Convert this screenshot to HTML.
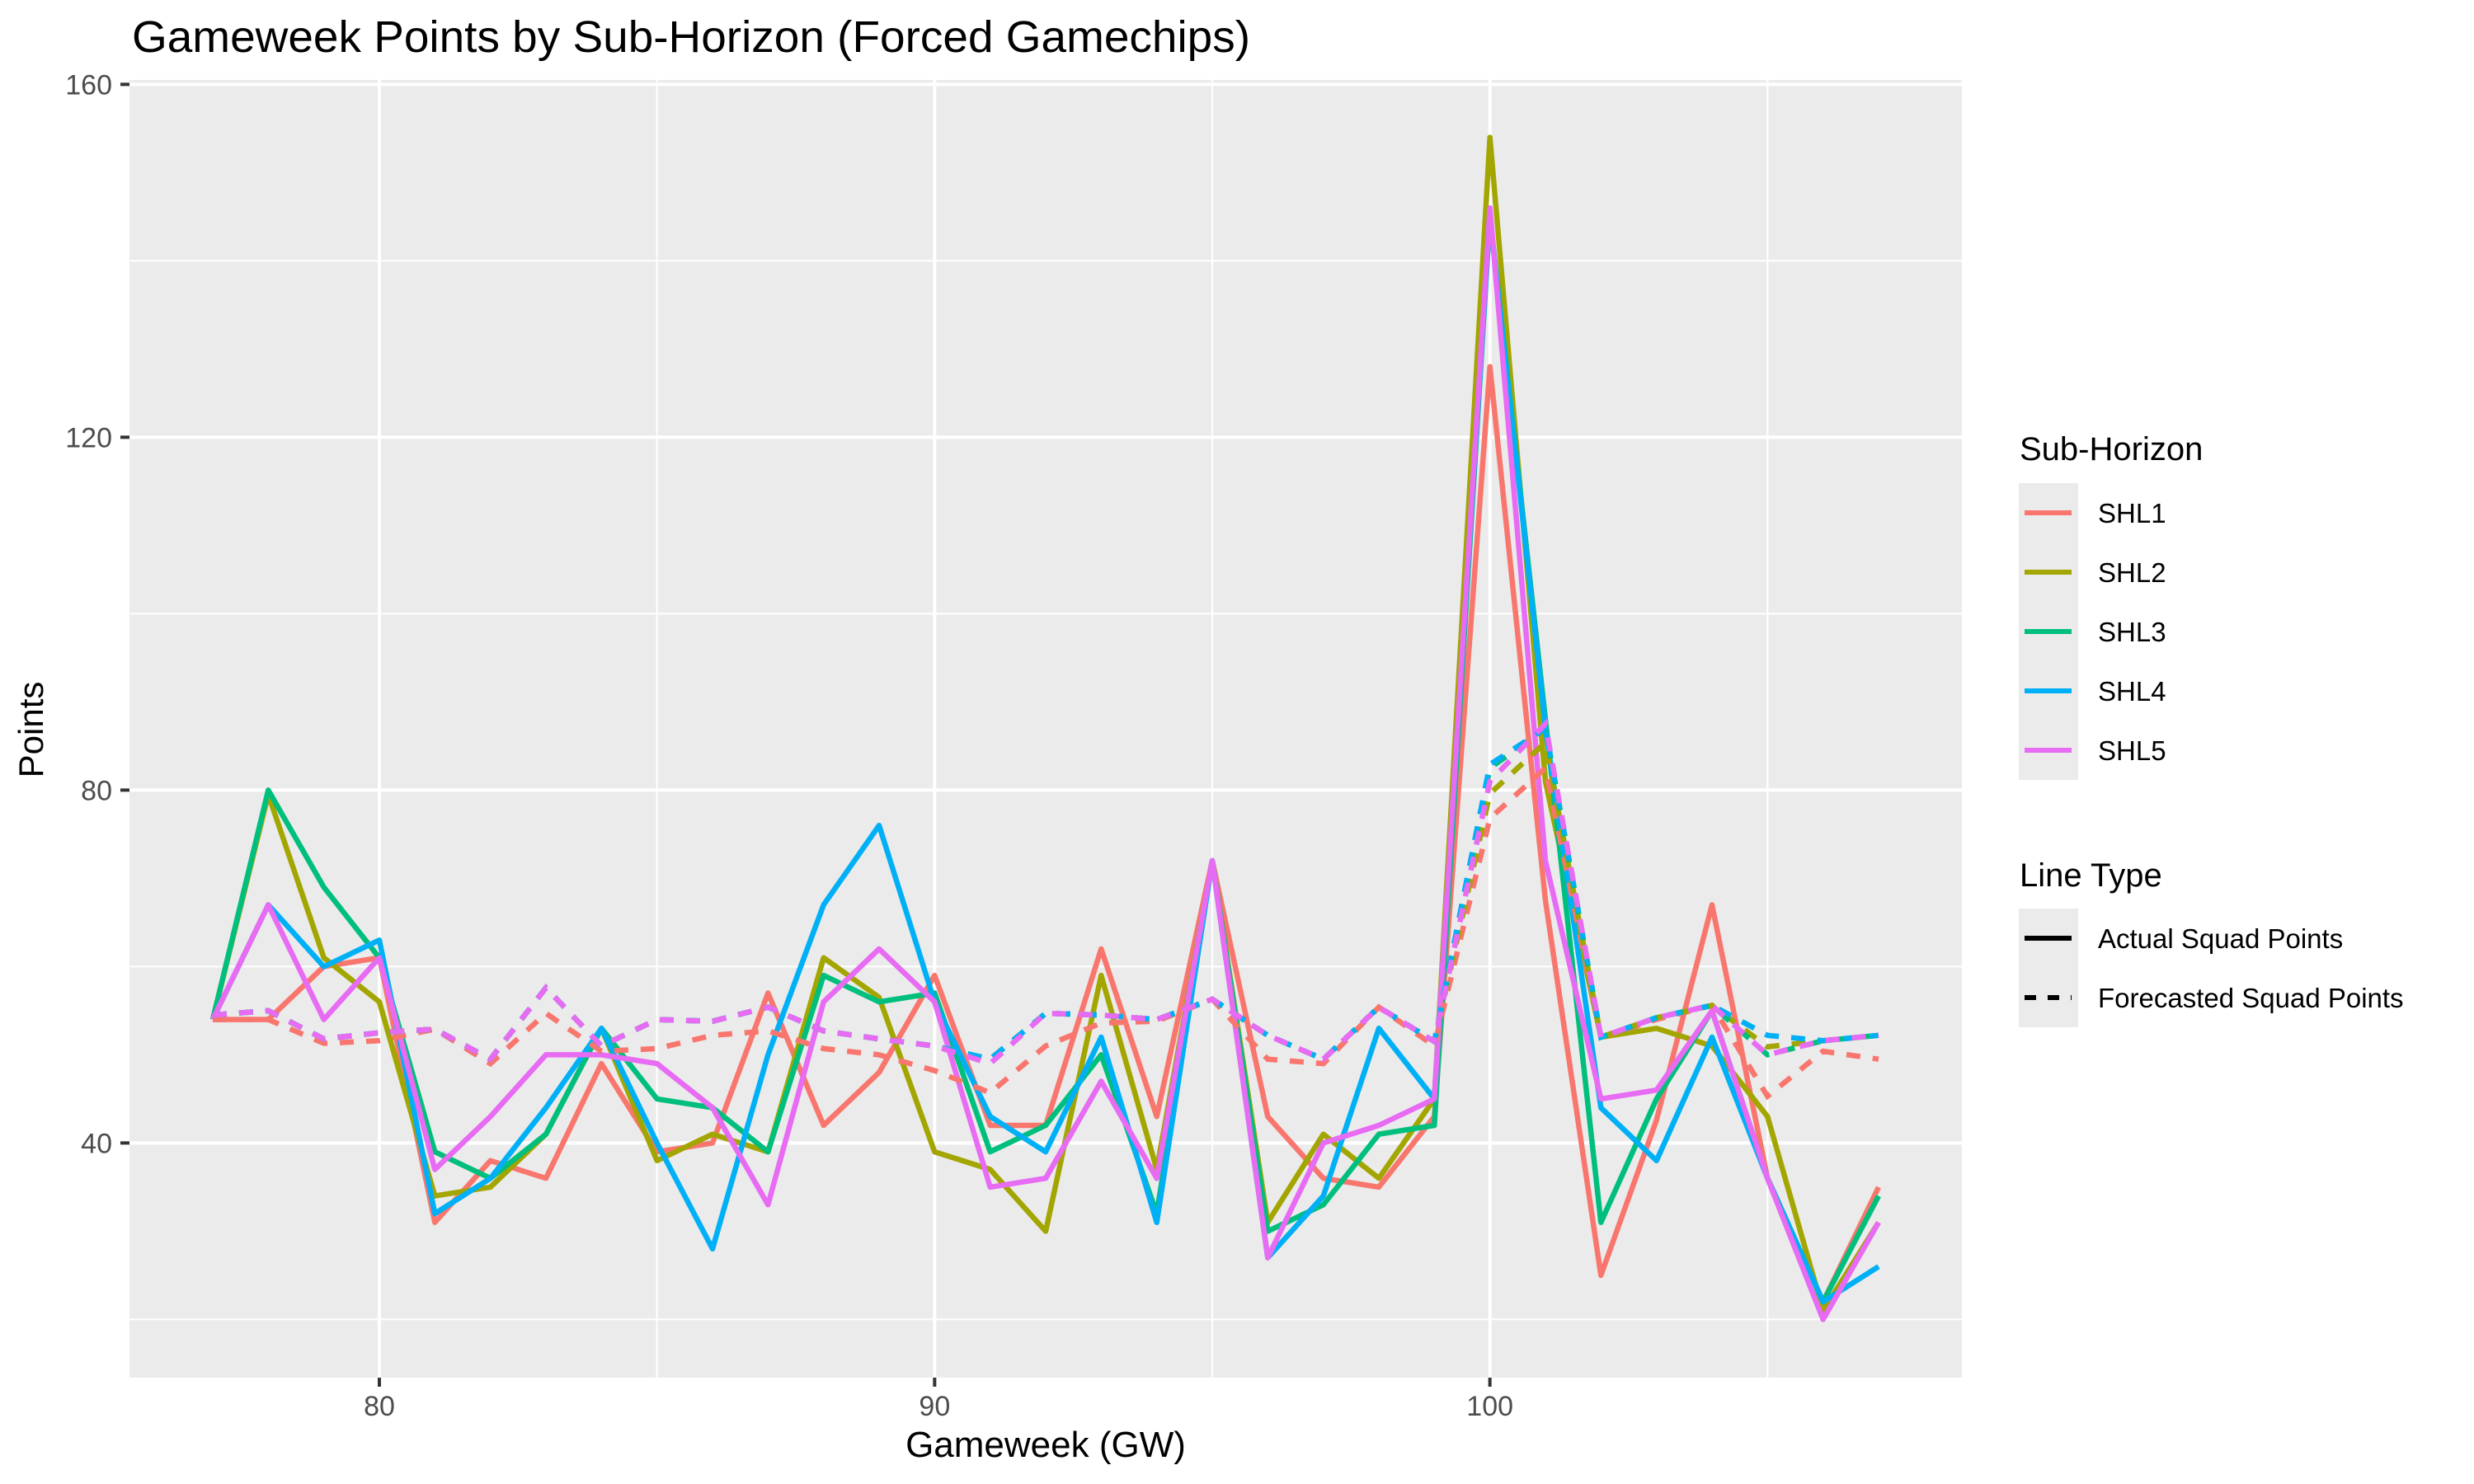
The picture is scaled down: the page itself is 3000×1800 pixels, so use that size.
<!DOCTYPE html>
<html><head><meta charset="utf-8"><style>
html,body{margin:0;padding:0;background:#fff;}
svg{display:block;font-family:"Liberation Sans",Arial,sans-serif;}
</style></head><body>
<svg id="chart" width="3000" height="1800" viewBox="0 0 3000 1800" xmlns="http://www.w3.org/2000/svg">
<rect x="0" y="0" width="3000" height="1800" fill="#fff"/>
<text x="160" y="63" font-size="54" fill="#000" textLength="1356" lengthAdjust="spacingAndGlyphs">Gameweek Points by Sub-Horizon (Forced Gamechips)</text>
<rect x="157" y="97" width="2222" height="1574" fill="#ebebeb"/>
<g id="grid"></g>
<g id="series"></g>
<g id="axes"></g>
<text x="1268" y="1767" font-size="44" text-anchor="middle" fill="#000">Gameweek (GW)</text>
<text transform="translate(52,885) rotate(-90)" font-size="42" text-anchor="middle" fill="#000">Points</text>
<g id="legend">
<text x="2449" y="558" font-size="40" fill="#000">Sub-Horizon</text>
<rect x="2448" y="586" width="72" height="360" fill="#ebebeb"/>
<text x="2449" y="1075" font-size="40" fill="#000">Line Type</text>
<rect x="2448" y="1102" width="72" height="144" fill="#ebebeb"/>
<line x1="2455" y1="1138" x2="2512" y2="1138" stroke="#000" stroke-width="6"/>
<text x="2544" y="1150" font-size="33" fill="#000">Actual Squad Points</text>
<line x1="2455" y1="1210" x2="2512" y2="1210" stroke="#000" stroke-width="6" stroke-dasharray="14 14"/>
<text x="2544" y="1222" font-size="33" fill="#000">Forecasted Squad Points</text>
</g>
</svg>
<script>
const gameweeks = [77,78,79,80,81,82,83,84,85,86,87,88,89,90,91,92,93,94,95,96,97,98,99,100,101,102,103,104,105,106,107];
const seriesNames = ["SHL1","SHL2","SHL3","SHL4","SHL5"];
const seriesColors = ["#F8766D","#A3A500","#00BF7D","#00B0F6","#E76BF3"];
const actualSHL1 = [54,54,60,61,31,38,36,49,39,40,57,42,48,59,42,42,62,43,72,43,36,35,43,128,67.5,25,42.6,67,36,22,35];
const actualSHL2 = [54,79.5,61,56,34,35,41,53,38,41,39,61,56.5,39,37,30,59,37,72,31,41,36,45,154,81,52,53,51,43,21,31];
const actualSHL3 = [54,80,69,61,39,36,41,53,45,44,39,59,56,57,39,42,50,32,72,30,33,41,42,145,88,31,45,55,36,22,34];
const actualSHL4 = [54,67,60,63,32,36,44,53,40,28,50,67,76,56,43,39,52,31,72,27,34,53,45,145,87,44,38,52,36,22,26];
const actualSHL5 = [54,67,54,61,37,43,50,50,49,44,33,56,62,56,35,36,47,36,72,27,40,42,45,146,72,45,46,55,36,20,31];
const forecastSHL1 = [54,54,51.3,51.6,52.9,49,54.7,50.4,50.7,52.2,52.7,50.7,50,48.2,45.7,51,53.6,53.8,56.3,49.5,49,55.4,51,76.8,82.5,52,54,55.6,45.3,50.4,49.5];
const forecastSHL2 = [54.5,55,51.8,52.5,52.9,49.5,57.6,51,54,53.8,55.4,52.7,51.8,51,49.5,54.7,54.5,54,56.3,52.2,49.5,55.4,51.5,79.6,85.4,52,54.2,55.6,50.9,51.6,52.2];
const forecastSHL3 = [54.5,55,51.8,52.5,52.9,49.5,57.6,51,54,53.8,55.4,52.7,51.8,51,49.5,54.7,54.5,54,56.3,52.2,49.5,55.4,51.5,82.5,87,52,54.2,55.6,50,51.6,52.2];
const forecastSHL4 = [54.5,55,51.8,52.5,52.9,49.5,57.6,51,54,53.8,55.4,52.7,51.8,51,49.5,54.7,54.5,54,56.3,52.2,49.5,55.4,51.5,82.9,87,52,54.2,55.6,52.2,51.6,52.2];
const forecastSHL5 = [54.5,55,51.8,52.5,52.9,49.5,57.6,51,54,53.8,55.4,52.7,51.8,51,49,54.7,54.5,54,56.3,52.2,49.5,55.4,51.5,81,87.5,52,54.2,55.6,50,51.6,52.2];
const xMajorTicks = [80,90,100];
const xMinorTicks = [75,85,95,105];
const yMajorTicks = [40,80,120,160];
const yMinorTicks = [20,60,100,140];

const actualAll = [actualSHL1,actualSHL2,actualSHL3,actualSHL4,actualSHL5];
const forecastAll = [forecastSHL1,forecastSHL2,forecastSHL3,forecastSHL4,forecastSHL5];
const NS = "http://www.w3.org/2000/svg";
const PL = 157, PR = 2379, PT = 97, PB = 1671;
const XMIN = 75.5, XMAX = 108.5, YMIN = 13.4, YMAX = 160.5;
function sx(v){ return PL + (v - XMIN) / (XMAX - XMIN) * (PR - PL); }
function sy(v){ return PB - (v - YMIN) / (YMAX - YMIN) * (PB - PT); }
function mk(tag, attrs, parent){ const e = document.createElementNS(NS, tag); for (const k in attrs) e.setAttribute(k, attrs[k]); parent.appendChild(e); return e; }

const grid = document.getElementById('grid');
yMinorTicks.forEach(v => {
  const l = mk('line', {x1:PL, x2:PR, y1:sy(v), y2:sy(v), stroke:'#fff', 'stroke-width':2}, grid);
  
  
});
xMinorTicks.forEach(v => {
  const l = mk('line', {x1:sx(v), x2:sx(v), y1:PT, y2:PB, stroke:'#fff', 'stroke-width':2}, grid);
  
  
});
yMajorTicks.forEach(v => {
  const l = mk('line', {x1:PL, x2:PR, y1:sy(v), y2:sy(v), stroke:'#fff', 'stroke-width':4}, grid);
  
  
});
xMajorTicks.forEach(v => {
  const l = mk('line', {x1:sx(v), x2:sx(v), y1:PT, y2:PB, stroke:'#fff', 'stroke-width':4}, grid);
  
  
});

const axes = document.getElementById('axes');
yMajorTicks.forEach(v => {
  const t = mk('line', {x1:146, x2:PL, y1:sy(v), y2:sy(v), stroke:'#333', 'stroke-width':4}, axes);
  
  
  const lb = mk('text', {x:136, y:sy(v)+12, 'font-size':34, 'text-anchor':'end', fill:'#4d4d4d'}, axes);
  lb.textContent = String(v);
  
  
});
xMajorTicks.forEach(v => {
  const t = mk('line', {x1:sx(v), x2:sx(v), y1:PB, y2:PB+11, stroke:'#333', 'stroke-width':4}, axes);
  
  
  const lb = mk('text', {x:sx(v), y:1717, 'font-size':34, 'text-anchor':'middle', fill:'#4d4d4d'}, axes);
  lb.textContent = String(v);
  
  
});

function pts(arr){ return arr.map((v,i) => sx(gameweeks[i]).toFixed(1) + ',' + sy(v).toFixed(1)).join(' '); }
const series = document.getElementById('series');
actualAll.forEach((arr, i) => {
  const p = mk('polyline', {points:pts(arr), fill:'none', stroke:seriesColors[i], 'stroke-width':6.5, 'stroke-linejoin':'round'}, series);
  
  
});
forecastAll.forEach((arr, i) => {
  const p = mk('polyline', {points:pts(arr), fill:'none', stroke:seriesColors[i], 'stroke-width':6.5, 'stroke-dasharray':'17 15'}, series);
  
  
});

const legend = document.getElementById('legend');
seriesNames.forEach((n, i) => {
  const yy = 622 + i * 72;
  const l = mk('line', {x1:2455, x2:2512, y1:yy, y2:yy, stroke:seriesColors[i], 'stroke-width':6}, legend);
  
  
  const t = mk('text', {x:2544, y:yy+12, 'font-size':33, fill:'#000'}, legend);
  t.textContent = n;
  
  
});
</script>
</body></html>
